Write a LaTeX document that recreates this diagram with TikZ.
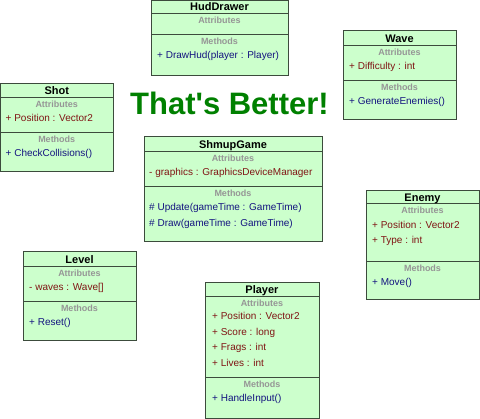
\documentclass[tikz,border=0pt]{standalone}
\usepackage{fontspec}
\setmainfont{Liberation Sans}
\newfontfamily\bannerfont{Liberation Sans}

\definecolor{boxfill}{RGB}{204,255,204}
\definecolor{boxline}{RGB}{60,75,60}
\definecolor{labelgray}{RGB}{150,150,150}
\definecolor{attrred}{RGB}{128,20,20}
\definecolor{methblue}{RGB}{20,20,128}
\definecolor{bannergreen}{RGB}{0,128,0}

\begin{document}
\begin{tikzpicture}[x=1pt,y=-1pt,
  classbox/.style={draw=boxline,fill=boxfill,line width=1pt},
  divider/.style={draw=boxline,line width=1pt},
  classname/.style={font=\fontsize{11}{13}\selectfont\bfseries,inner sep=0pt,text height=8pt,text depth=0pt},
  section/.style={font=\fontsize{9}{11}\selectfont\bfseries,text=labelgray,inner sep=0pt,text height=6.5pt,text depth=0pt},
  attr/.style={font=\fontsize{10}{12}\selectfont,text=attrred,anchor=west,inner sep=0pt,text height=7.2pt,text depth=0pt},
  meth/.style={font=\fontsize{10}{12}\selectfont,text=methblue,anchor=west,inner sep=0pt,text height=7.2pt,text depth=0pt}]

\useasboundingbox (0,0) rectangle (480,419);

% HudDrawer
\def\hl{151} \def\hr{288}
\draw [classbox] (\hl,0.5) rectangle (\hr,76);
\draw [divider] (\hl,14) -- (\hr,14);
\draw [divider] (\hl,35) -- (\hr,35);
\node [classname] (hud) at ({(\hl+\hr)/2},7) {HudDrawer};
\node [section] (hud_attr) at ({(\hl+\hr)/2},20.5) {Attributes};
\node [section] (hud_meth) at ({(\hl+\hr)/2},41.5) {Methods};
\node [meth] (hud_m1) at (\hl+6,55) {+ DrawHud(player : Player)};

% Wave
\def\wl{343} \def\wr{456}
\draw [classbox] (\wl,31) rectangle (\wr,120);
\draw [divider] (\wl,46) -- (\wr,46);
\draw [divider] (\wl,81) -- (\wr,81);
\node [classname] (wave) at ({(\wl+\wr)/2},38.5) {Wave};
\node [section] (wave_attr) at ({(\wl+\wr)/2},52.5) {Attributes};
\node [attr] (wave_a1) at (\wl+6,65.5) {+ Difficulty : int};
\node [section] (wave_meth) at ({(\wl+\wr)/2},87.5) {Methods};
\node [meth] (wave_m1) at (\wl+6,101) {+ GenerateEnemies()};

% Shot
\def\sl{0.5} \def\sr{113}
\draw [classbox] (\sl,84) rectangle (\sr,172);
\draw [divider] (\sl,98) -- (\sr,98);
\draw [divider] (\sl,133) -- (\sr,133);
\node [classname] (shot) at ({(\sl+\sr)/2},91) {Shot};
\node [section] (shot_attr) at ({(\sl+\sr)/2},104.5) {Attributes};
\node [attr] (shot_a1) at (\sl+5,117.5) {+ Position : Vector2};
\node [section] (shot_meth) at ({(\sl+\sr)/2},139.5) {Methods};
\node [meth] (shot_m1) at (\sl+5,153) {+ CheckCollisions()};

% ShmupGame
\def\gl{144} \def\gr{322}
\draw [classbox] (\gl,137) rectangle (\gr,242);
\draw [divider] (\gl,152) -- (\gr,152);
\draw [divider] (\gl,187) -- (\gr,187);
\node [classname] (game) at ({(\gl+\gr)/2},144.5) {ShmupGame};
\node [section] (game_attr) at ({(\gl+\gr)/2},158.5) {Attributes};
\node [attr] (game_a1) at (\gl+5,171.5) {- graphics : GraphicsDeviceManager};
\node [section] (game_meth) at ({(\gl+\gr)/2},193.5) {Methods};
\node [meth] (game_m1) at (\gl+5,207) {\# Update(gameTime : GameTime)};
\node [meth] (game_m2) at (\gl+5,222.5) {\# Draw(gameTime : GameTime)};

% Enemy
\def\el{366} \def\er{479}
\draw [classbox] (\el,191) rectangle (\er,300);
\draw [divider] (\el,204) -- (\er,204);
\draw [divider] (\el,262) -- (\er,262);
\node [classname] (enemy) at ({(\el+\er)/2},197.5) {Enemy};
\node [section] (enemy_attr) at ({(\el+\er)/2},210.5) {Attributes};
\node [attr] (enemy_a1) at (\el+6,224.5) {+ Position : Vector2};
\node [attr] (enemy_a2) at (\el+6,240) {+ Type : int};
\node [section] (enemy_meth) at ({(\el+\er)/2},268.5) {Methods};
\node [meth] (enemy_m1) at (\el+6,282) {+ Move()};

% Level
\def\ll{23} \def\lr{136}
\draw [classbox] (\ll,252) rectangle (\lr,341);
\draw [divider] (\ll,267) -- (\lr,267);
\draw [divider] (\ll,302) -- (\lr,302);
\node [classname] (level) at ({(\ll+\lr)/2},259.5) {Level};
\node [section] (level_attr) at ({(\ll+\lr)/2},273.5) {Attributes};
\node [attr] (level_a1) at (\ll+6,286.5) {- waves : Wave[]};
\node [section] (level_meth) at ({(\ll+\lr)/2},308.5) {Methods};
\node [meth] (level_m1) at (\ll+6,322) {+ Reset()};

% Player
\def\pl{205} \def\pr{319}
\draw [classbox] (\pl,283) rectangle (\pr,418.5);
\draw [divider] (\pl,297) -- (\pr,297);
\draw [divider] (\pl,378) -- (\pr,378);
\node [classname] (player) at ({(\pl+\pr)/2},290) {Player};
\node [section] (player_attr) at ({(\pl+\pr)/2},303.5) {Attributes};
\node [attr] (player_a1) at (\pl+7,316) {+ Position : Vector2};
\node [attr] (player_a2) at (\pl+7,331.5) {+ Score : long};
\node [attr] (player_a3) at (\pl+7,347) {+ Frags : int};
\node [attr] (player_a4) at (\pl+7,362.5) {+ Lives : int};
\node [section] (player_meth) at ({(\pl+\pr)/2},384.5) {Methods};
\node [meth] (player_m1) at (\pl+7,398) {+ HandleInput()};

% banner
\node [anchor=base,inner sep=0pt,text=bannergreen,font=\bannerfont\fontsize{31}{36}\selectfont\bfseries] (banner) at (229.5,114.5) {That's Better!};

\end{tikzpicture}
\end{document}
